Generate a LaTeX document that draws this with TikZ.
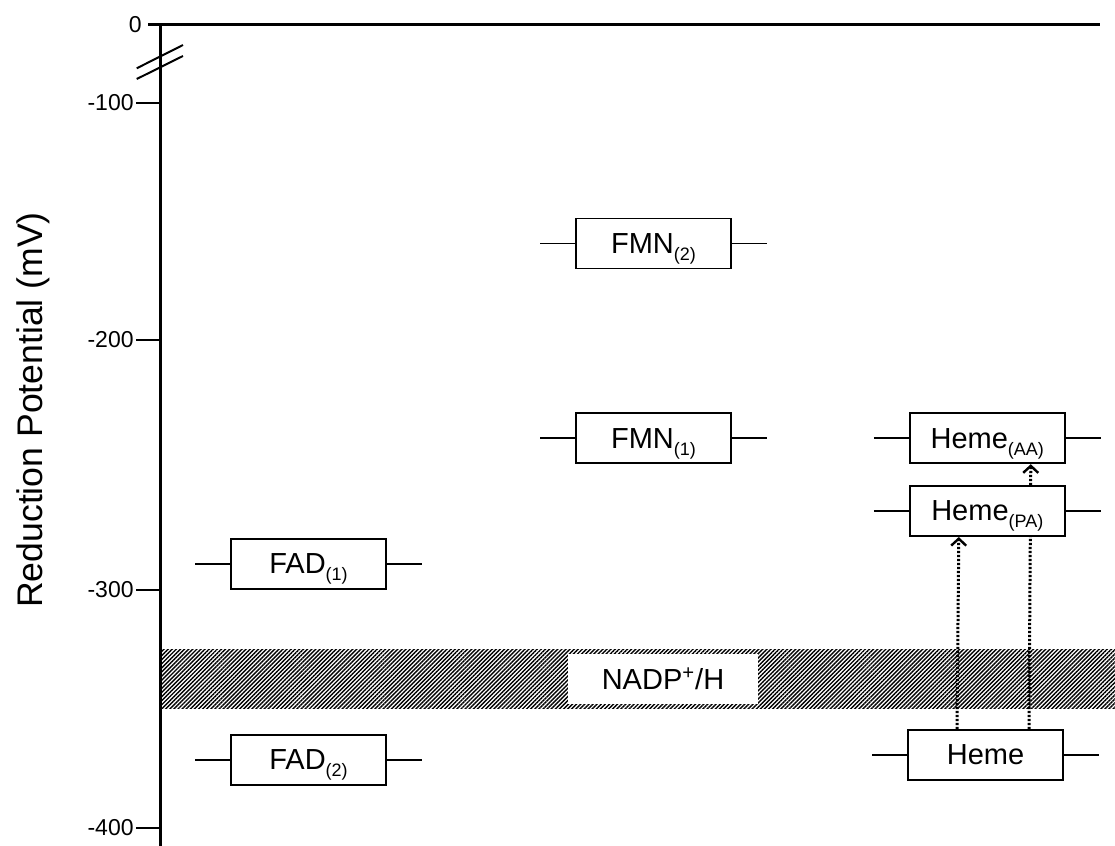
\documentclass[tikz,border=0pt]{standalone}
\usepackage{fontspec}
\setmainfont{Liberation Sans}
\usepackage{tikz}
\usetikzlibrary{positioning, calc, arrows.meta, patterns.meta}
\pgfdeclarelayer{front}
\pgfsetlayers{main,front}
\tikzstyle{species} = [rectangle, minimum width=77.5pt, minimum height=25pt, inner sep=0pt, text centered, draw=black, line width=0.9pt, fill=white, font=\fontsize{14.5}{16}\selectfont]
\tikzstyle{level} = [line width=0.9pt]
\tikzstyle{axis} = [line width=1.5pt]
\tikzstyle{tick} = [line width=1pt]
\tikzstyle{ticklabel} = [anchor=east, inner sep=0pt, font=\fontsize{11.5}{13}\selectfont]
\tikzstyle{transfer} = [line width=1.5pt, dash pattern=on 1.1pt off 0.9pt, -{Straight Barb[length=3.5pt,width=7.5pt,line width=1.2pt]}]
\newcommand{\lowsub}[1]{\smash{\raisebox{-3.5pt}{\fontsize{9}{10}\selectfont #1}}}

\begin{document}
\begin{tikzpicture}[x=0.5pt, y=-0.5pt]
        \useasboundingbox (0,0) rectangle (1115,846);

        \begin{pgfonlayer}{front}
        \node (fmn2) [species] at (653.5,243.5) {FMN\lowsub{(2)}};
        \node (fmn1) [species, below=71.5pt of fmn2] {FMN\lowsub{(1)}};
        \node (hemeAA) [species, right=88.5pt of fmn1] {Heme\lowsub{(AA)}};
        \node (hemePA) [species, below=10.5pt of hemeAA] {Heme\lowsub{(PA)}};
        \node (heme) [species] at (985.5,755) {Heme};
        \node (fad1) [species] at (308.5,564) {FAD\lowsub{(1)}};
        \node (fad2) [species, below=72pt of fad1] {FAD\lowsub{(2)}};
        \end{pgfonlayer}

        \fill [pattern={Lines[angle=45, distance=1.45pt, line width=0.7pt]}] (160,649) rectangle (1115,708);
        \node (nadp) [fill=white, minimum width=95pt, minimum height=25pt, inner sep=0pt, font=\fontsize{14.5}{16}\selectfont] at (663,679) {NADP\textsuperscript{+}/H};

        \draw [axis] (148,24.5) -- (1100,24.5);
        \draw [axis] (160,24.5) -- (160,846);
        \draw [tick] (136.7,68.3) -- (183,45);
        \draw [tick] (136.7,79) -- (183,56);
        \node (zero) [ticklabel] at (142,25) {0};
        \foreach \y/\v in {102.5/-100, 340/-200, 590/-300, 828/-400} {
            \draw [tick] (136,\y) -- (160,\y);
            \node [ticklabel] at (134,\y) {\v};
        }
        \node (ylabel) [rotate=90, anchor=base, font=\fontsize{17.8}{20}\selectfont] at (42,410) {Reduction Potential (mV)};

        \foreach \n in {fmn2, fmn1, hemeAA, hemePA, heme, fad1, fad2}
            \draw [level] ([xshift=-17.5pt]\n.west) -- ([xshift=17.5pt]\n.east);

        \draw [transfer] ($(heme.north)+(-28.5,0)$) -- ($(hemePA.south)+(-28.5,0)$);
        \draw [transfer] ($(heme.north)+(43.5,0)$) -- ($(hemeAA.south)+(43.5,0)$);
    \end{tikzpicture}
\end{document}
